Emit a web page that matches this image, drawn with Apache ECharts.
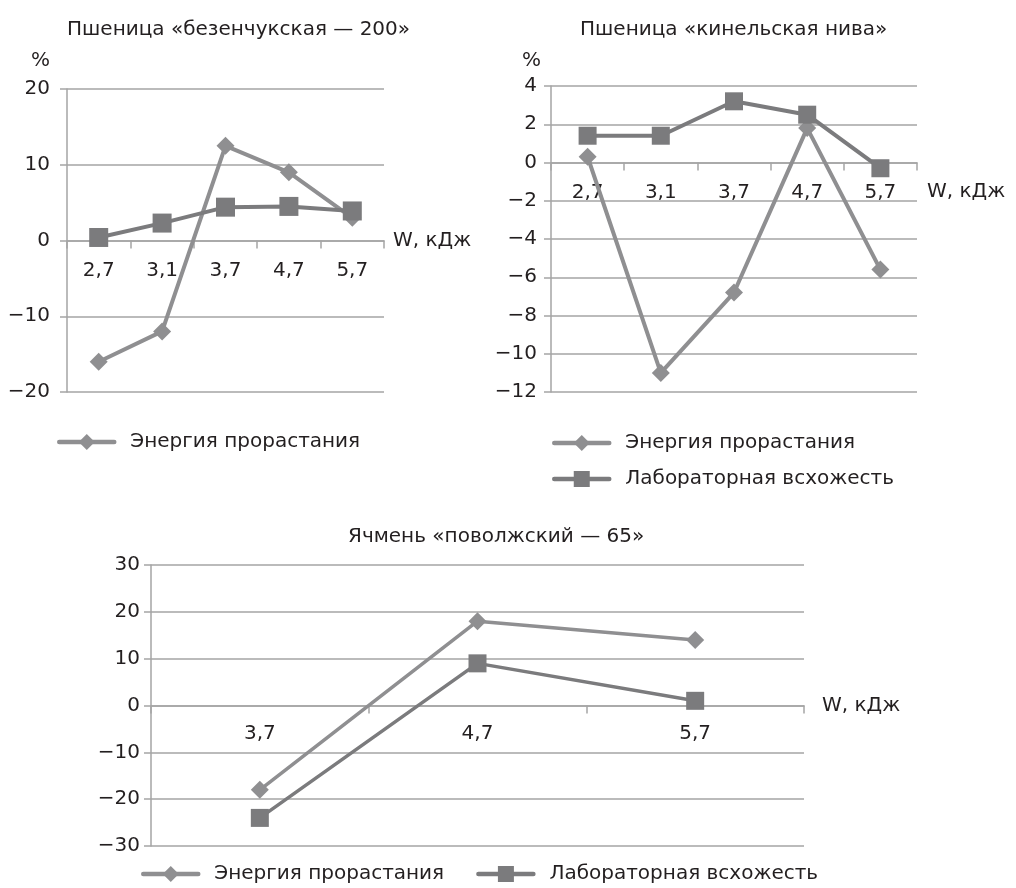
<!DOCTYPE html>
<html><head><meta charset="utf-8">
<script src="https://cdn.jsdelivr.net/npm/echarts@6/dist/echarts.min.js"></script>
<style>html,body{margin:0;padding:0;background:#fff}#c{width:1016px;height:888px}</style>
</head><body><div id="c"></div>
<script>
const SERIES_ENERGY = 'Энергия прорастания';
const SERIES_LAB = 'Лабораторная всхожесть';
const titles = ['Пшеница «безенчукская — 200»', 'Пшеница «кинельская нива»', 'Ячмень «поволжский — 65»'];
const xName = 'W, кДж';
const yName = '%';
// Chart A
const catsA = ['2,7', '3,1', '3,7', '4,7', '5,7'];
const energyA = [-16, -12, 12.5, 9, 3];
const labA = [0.4, 2.3, 4.4, 4.5, 3.9];
// Chart B
const catsB = ['2,7', '3,1', '3,7', '4,7', '5,7'];
const energyB = [0.3, -11, -6.8, 1.8, -5.6];
const labB = [1.4, 1.4, 3.2, 2.5, -0.3];
// Chart C
const catsC = ['3,7', '4,7', '5,7'];
const energyC = [-18, 18, 14];
const labC = [-24, 9, 1];
// Value-axis ranges
const rangeA = { min: -20, max: 20, step: 10 };
const rangeB = { min: -12, max: 4, step: 2 };
const rangeC = { min: -30, max: 30, step: 10 };

const FONT = 'DejaVu Sans';
const TXT = '#231f20';
const GRID = '#a5a5a5';
const C_EN = '#8f8f91';
const C_LAB = '#7b7b7d';
const FS = 20;

const grids = [
  { left: 67, top: 89, width: 317, height: 303 },
  { left: 551, top: 86, width: 366, height: 306 },
  { left: 151, top: 565, width: 653, height: 281 }
];

function fmtY(v) { return v < 0 ? '\u2212' + Math.abs(v) : String(v); }
// move the category axis up to the zero line of its value axis
function zeroOffset(g, r) { return -g.height * (0 - r.min) / (r.max - r.min); }

function xAxis(idx, cats, range, nameGap, nameStyleExtra, labelMargin) {
  return {
    type: 'category', gridIndex: idx, data: cats, boundaryGap: true,
    position: 'bottom', offset: zeroOffset(grids[idx], range),
    name: xName, nameLocation: 'end', nameGap: nameGap,
    nameTextStyle: Object.assign({ color: TXT, fontSize: FS, fontFamily: FONT, align: 'left', verticalAlign: 'middle' }, nameStyleExtra || {}),
    axisLine: { show: true, onZero: false, lineStyle: { color: GRID, width: 1.5 } },
    axisTick: { show: true, length: 8, alignWithLabel: false, interval: 0, lineStyle: { color: GRID, width: 1.5 } },
    axisLabel: { color: TXT, fontSize: FS, fontFamily: FONT, margin: labelMargin, interval: 0 },
    splitLine: { show: false }
  };
}
function yAxis(idx, range, labelMargin, withName, nameGap, namePadRight) {
  return {
    type: 'value', gridIndex: idx, min: range.min, max: range.max, interval: range.step,
    name: withName ? yName : '', nameLocation: 'end', nameGap: nameGap,
    nameTextStyle: { color: TXT, fontSize: FS, fontFamily: FONT, align: 'right', padding: [0, namePadRight, 0, 0] },
    axisLine: { show: true, lineStyle: { color: GRID, width: 1.5 } },
    axisTick: { show: true, length: 7, lineStyle: { color: GRID, width: 1.5 } },
    axisLabel: { color: TXT, fontSize: FS, fontFamily: FONT, margin: labelMargin, formatter: fmtY },
    splitLine: { show: true, lineStyle: { color: GRID, width: 1.5 } }
  };
}
function line(name, idx, data, color, symbol, size, width) {
  return {
    type: 'line', name: name, xAxisIndex: idx, yAxisIndex: idx, data: data,
    symbol: symbol, symbolSize: size, showAllSymbol: true,
    lineStyle: { color: color, width: width },
    itemStyle: { color: color },
    emphasis: { disabled: true }, animation: false
  };
}
function titleAt(text, left, top) {
  return { text: text, left: left, top: top, padding: 0,
    textStyle: { color: TXT, fontSize: FS, fontWeight: 'normal', fontFamily: FONT } };
}
const legendText = { color: TXT, fontSize: FS, fontFamily: FONT, padding: [0, 0, 0, 11] };
function legend(extra) {
  return Object.assign({
    padding: 0, itemWidth: 55, itemHeight: 20, textStyle: legendText, selectedMode: false,
    lineStyle: { width: 4.5, cap: 'round' }
  }, extra);
}

const chart = echarts.init(document.getElementById('c'), null, { renderer: 'canvas' });
chart.setOption({
  backgroundColor: '#fff',
  animation: false,
  title: [
    titleAt(titles[0], 67, 20),
    titleAt(titles[1], 580, 20),
    titleAt(titles[2], 348, 527)
  ],
  grid: grids,
  xAxis: [
    xAxis(0, catsA, rangeA, 9, null, 20),
    xAxis(1, catsB, rangeB, 10, { verticalAlign: 'top', lineHeight: 58 }, 20),
    xAxis(2, catsC, rangeC, 18, null, 18)
  ],
  yAxis: [
    yAxis(0, rangeA, 17, true, 18, 17),
    yAxis(1, rangeB, 14, true, 15, 10),
    yAxis(2, rangeC, 11, false, 0, 0)
  ],
  legend: [
    legend({ left: 57, top: 432, data: [SERIES_ENERGY] }),
    legend({ left: 552, top: 433, orient: 'vertical', itemGap: 16, data: [SERIES_ENERGY, SERIES_LAB] }),
    legend({ left: 141, top: 864, orient: 'horizontal', itemGap: 32, data: [SERIES_ENERGY, SERIES_LAB] })
  ],
  series: [
    line(SERIES_ENERGY, 0, energyA, C_EN, 'diamond', 18, 4),
    line(SERIES_LAB, 0, labA, C_LAB, 'rect', 19, 4),
    line(SERIES_ENERGY, 1, energyB, C_EN, 'diamond', 18, 4),
    line(SERIES_LAB, 1, labB, C_LAB, 'rect', 18, 4),
    line(SERIES_ENERGY, 2, energyC, C_EN, 'diamond', 18, 3.5),
    line(SERIES_LAB, 2, labC, C_LAB, 'rect', 18, 3.5)
  ]
});
</script>
</body></html>
